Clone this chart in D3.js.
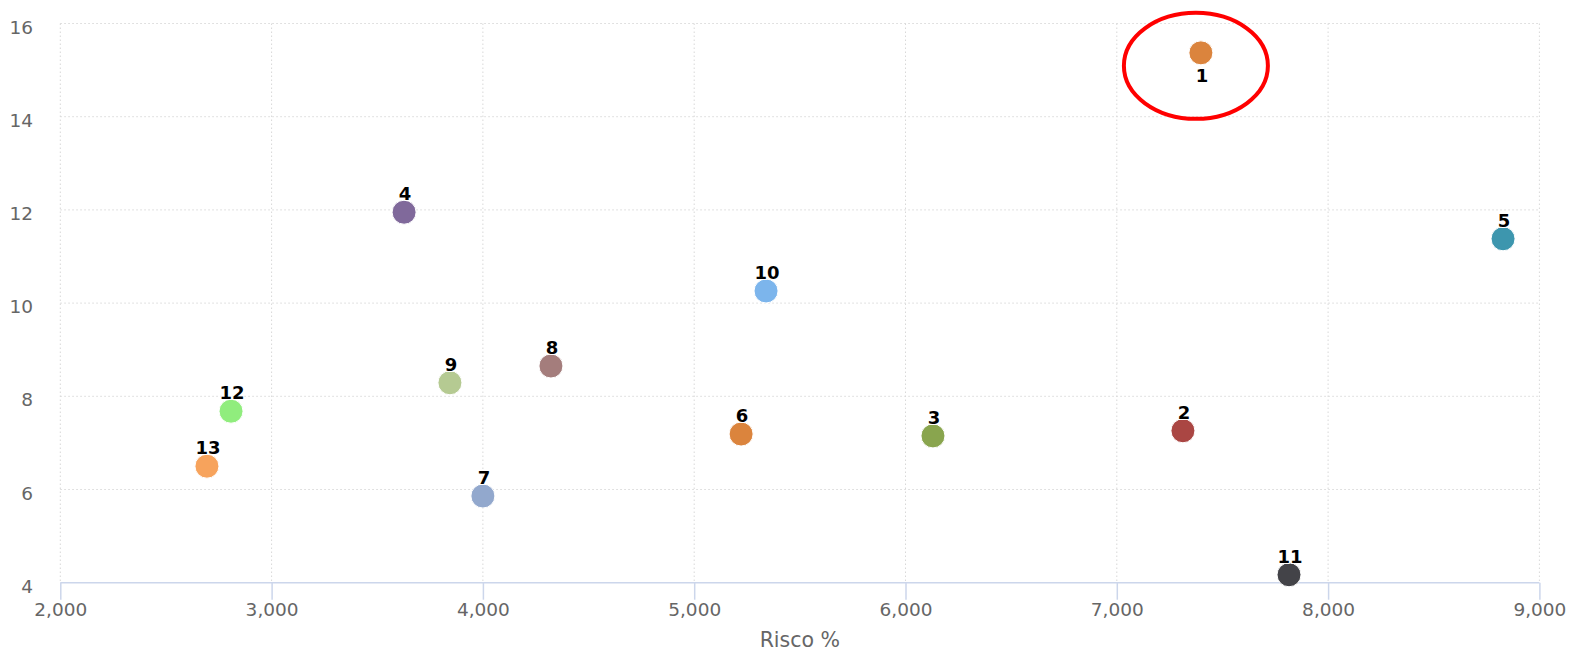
<!DOCTYPE html>
<html>
<head>
<meta charset="utf-8">
<script src="https://cdn.jsdelivr.net/npm/d3@7"></script>
<style>
  body { margin: 0; background: #fff; }
  svg { display: block; font-family: "DejaVu Sans", sans-serif; }
</style>
</head>
<body>
<svg id="chart" width="1569" height="651"></svg>
<script>
/*************************Data********************* */
const labels = ["1", "2", "3", "4", "5", "6", "7", "8", "9", "10", "11", "12", "13"];
const risco = [7398, 7313, 6130, 3627, 8828, 5222, 4000, 4322, 3844, 5340, 7815, 2808, 2694];
const retorno = [15.37, 7.26, 7.15, 11.95, 11.38, 7.19, 5.86, 8.65, 8.29, 10.26, 4.17, 7.68, 6.5];
const colors = ["#DB843D", "#AA4643", "#89A54E", "#80699B", "#3D96AE", "#DB843D", "#92A8CD",
  "#A47D7C", "#B5CA92", "#7CB5EC", "#434348", "#90ED7D", "#F7A35C"];
const xTicks = [2000, 3000, 4000, 5000, 6000, 7000, 8000, 9000];
const yTicks = [4, 6, 8, 10, 12, 14, 16];
const labelBelow = ["1"]; // label placed under the point
const highlighted = "1"; // point circled in red

/*************************Scales********************* */
const plotLeft = 60.3, plotRight = 1539.4, plotTop = 23.5, plotBottom = 582.7;
const svg = d3.select("svg#chart");
const x = d3.scaleLinear().domain([2000, 9000]).range([plotLeft, plotRight]);
const y = d3.scaleLinear().domain([4, 16]).range([plotBottom, plotTop]);

// grid
const grid = svg.append("g").attr("class", "grid");
grid.selectAll("line.v")
  .data(xTicks)
  .join("line")
  .attr("class", "v")
  .attr("x1", (d) => x(d)).attr("x2", (d) => x(d))
  .attr("y1", plotTop).attr("y2", plotBottom)
  .attr("stroke", "#d8d8d8").attr("stroke-width", 1).attr("stroke-dasharray", "1.5,2.5");
grid.selectAll("line.h")
  .data(yTicks.filter((d) => d !== 4))
  .join("line")
  .attr("class", "h")
  .attr("x1", plotLeft).attr("x2", plotRight)
  .attr("y1", (d) => y(d)).attr("y2", (d) => y(d))
  .attr("stroke", "#d8d8d8").attr("stroke-width", 1).attr("stroke-dasharray", "1.5,2.5");

/*************************Axes********************* */
const xAxis = d3.axisBottom(x).tickValues(xTicks).tickSize(17).tickPadding(3).tickFormat(d3.format(","));
const gx = svg.append("g").attr("transform", `translate(0,${plotBottom})`).call(xAxis);
gx.select(".domain").attr("stroke", "#ccd6eb").attr("stroke-width", 1.5).attr("d", `M${plotLeft},0H${plotRight}`);
gx.selectAll(".tick line").attr("stroke", "#ccd6eb").attr("stroke-width", 1.5);
gx.selectAll(".tick text")
  .attr("fill", "#666").attr("font-size", 18.5).attr("font-family", "DejaVu Sans")
  .attr("y", 0).attr("dy", 33);

const yAxis = d3.axisLeft(y).tickValues(yTicks).tickSize(0).tickPadding(0);
const gy = svg.append("g").attr("transform", `translate(33,0)`).call(yAxis);
gy.select(".domain").remove();
gy.selectAll(".tick text")
  .attr("fill", "#666").attr("font-size", 18.5).attr("font-family", "DejaVu Sans")
  .attr("x", 0).attr("dy", 9.5);

svg.append("text")
  .text("Risco %")
  .attr("x", (plotLeft + plotRight) / 2).attr("y", 647)
  .attr("text-anchor", "middle")
  .attr("fill", "#666").attr("font-size", 20.5);

/*************************Points********************* */
const data = labels.map((l, i) => ({ label: l, x: risco[i], y: retorno[i], color: colors[i] }));
const pts = svg.append("g").attr("class", "points");
pts.selectAll("circle")
  .data(data)
  .join("circle")
  .attr("cx", (d) => x(d.x))
  .attr("cy", (d) => y(d.y))
  .attr("r", 12)
  .attr("fill", (d) => d.color)
  .attr("stroke", "#fff").attr("stroke-width", 1);

pts.selectAll("text")
  .data(data)
  .join("text")
  .text((d) => d.label)
  .attr("x", (d) => x(d.x) + 1)
  .attr("y", (d) => (labelBelow.includes(d.label) ? y(d.y) + 29 : y(d.y) - 12))
  .attr("text-anchor", "middle")
  .attr("font-size", 18)
  .attr("font-weight", "bold")
  .attr("fill", "#000")
  .attr("stroke", "#fff").attr("stroke-width", 2).attr("stroke-linejoin", "round")
  .attr("paint-order", "stroke");

// red ellipse around the highlighted point
const hp = data.find((d) => d.label === highlighted);
svg.append("ellipse")
  .attr("cx", x(hp.x) - 5)
  .attr("cy", y(hp.y) + 13)
  .attr("rx", 72)
  .attr("ry", 53)
  .attr("fill", "none")
  .attr("stroke", "#f00")
  .attr("stroke-width", 4);
</script>
</body>
</html>
